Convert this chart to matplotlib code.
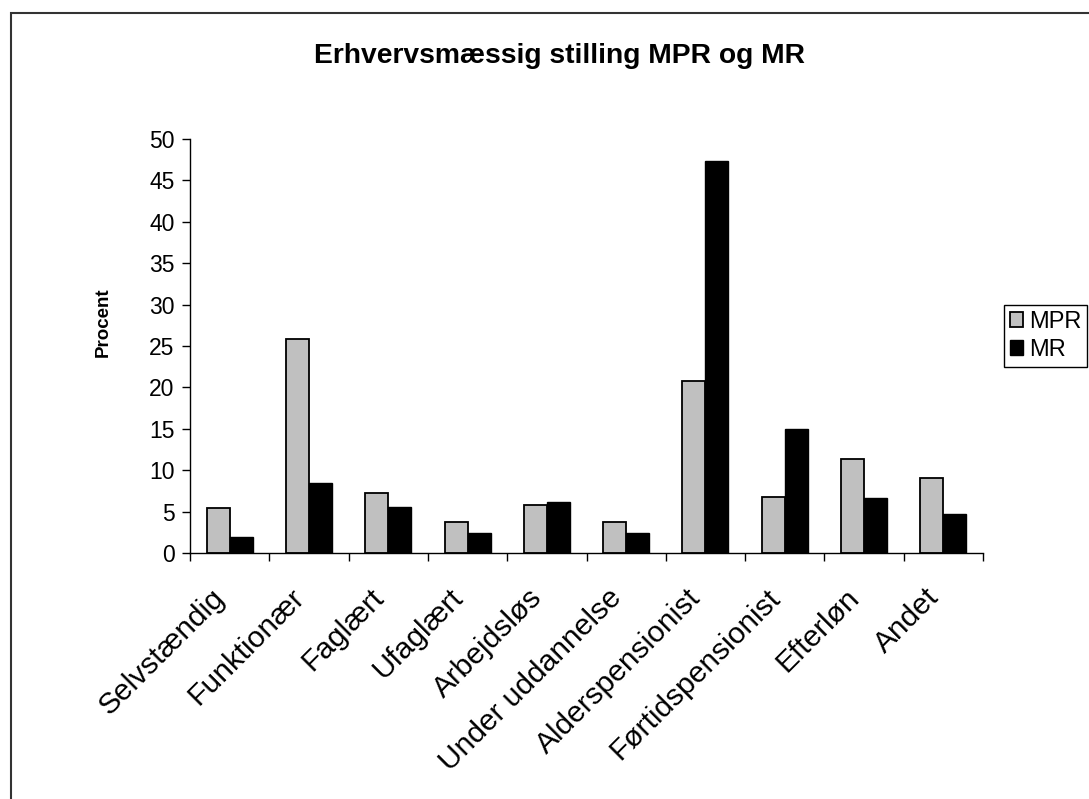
import numpy as np
import matplotlib
matplotlib.use("Agg")
import matplotlib.pyplot as plt
import matplotlib.transforms as mtransforms
from matplotlib.patches import Rectangle

plt.rcParams['font.family'] = ['Liberation Sans', 'DejaVu Sans']

categories = ["Selvstændig", "Funktionær", "Faglært", "Ufaglært", "Arbejdsløs",
              "Under uddannelse", "Alderspensionist", "Førtidspensionist",
              "Efterløn", "Andet"]
mpr = [5.4, 25.9, 7.3, 3.7, 5.8, 3.7, 20.8, 6.8, 11.4, 9.1]
mr = [1.9, 8.4, 5.6, 2.4, 6.1, 2.4, 47.3, 15.0, 6.6, 4.7]
yticks = list(range(0, 51, 5))

W, H = 1089, 799
fig = plt.figure(figsize=(W / 100, H / 100), dpi=100)
ax = fig.add_axes([190 / W, 1 - 553 / H, (983 - 190) / W, (553 - 139) / H])

x = np.arange(len(categories))
bw = 0.29
ax.bar(x - bw / 2, mpr, bw, color='#C0C0C0', edgecolor='black', linewidth=1.3, label='MPR')
ax.bar(x + bw / 2, mr, bw, color='black', edgecolor='black', linewidth=1.0, label='MR')

ax.set_xlim(-0.5, len(categories) - 0.5)
ax.set_ylim(0, 50)
ax.set_yticks(yticks)
ax.tick_params(axis='y', labelsize=16.5, length=6, width=1, direction='out', pad=5)

# category labels at centres, tick marks at the boundaries
ax.set_xticks(x)
ax.set_xticklabels(categories, rotation=45, ha='right', va='top',
                   rotation_mode='anchor', fontsize=21.5)
ax.tick_params(axis='x', which='major', length=0, pad=22)
shift = mtransforms.ScaledTranslation(-19 / 100, 0, fig.dpi_scale_trans)
for lbl in ax.get_xticklabels():
    lbl.set_transform(lbl.get_transform() + shift)
ax.set_xticks(np.arange(len(categories) + 1) - 0.5, minor=True)
ax.tick_params(axis='x', which='minor', length=6, width=1, direction='out')

for s in ['top', 'right']:
    ax.spines[s].set_visible(False)
for s in ['left', 'bottom']:
    ax.spines[s].set_linewidth(1)

fig.text(559 / W, 1 - 56 / H, "Erhvervsmæssig stilling MPR og MR",
         ha='center', va='center', fontsize=20.3, fontweight='bold')
fig.text(103 / W, 1 - 322 / H, "Procent", rotation=90,
         ha='center', va='center', fontsize=13.5, fontweight='bold')

leg = ax.legend(loc='upper left', bbox_to_anchor=(1004 / W, 1 - 305 / H),
                bbox_transform=fig.transFigure, fontsize=17, frameon=True,
                fancybox=False, framealpha=1, edgecolor='black',
                handlelength=0.55, handleheight=0.55, handletextpad=0.25,
                borderpad=0.25, labelspacing=0.25, borderaxespad=0)
leg.get_frame().set_linewidth(1)

# outer chart border
fig.patches.append(Rectangle((11 / W, -0.1), 1.2, 1 - 13 / H + 0.1,
                             transform=fig.transFigure, fill=False,
                             edgecolor='#333333', linewidth=1.5))

fig.savefig("out.png", dpi=100)
